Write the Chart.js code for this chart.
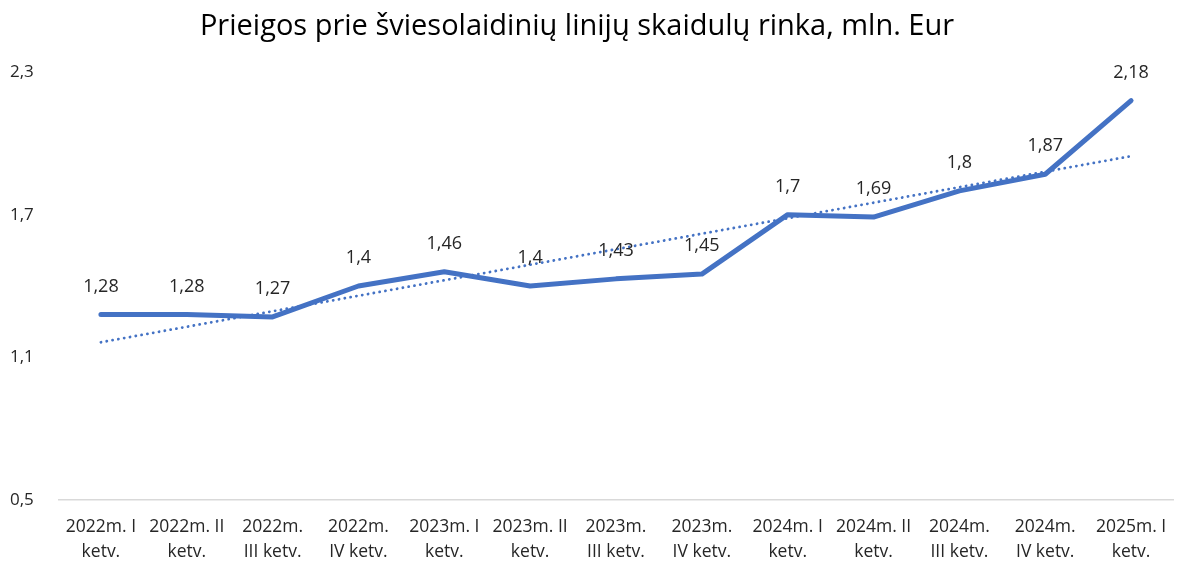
<!DOCTYPE html>
<html><head><meta charset="utf-8">
<script src="https://cdn.jsdelivr.net/npm/chart.js@4"></script>
<style>html,body{margin:0;padding:0;background:#fff}#wrap{width:1184px;height:563px;position:relative}</style>
</head><body><div id="wrap"><canvas id="c" width="1184" height="563"></canvas></div>
<script>
const TITLE = "Prieigos prie šviesolaidinių linijų skaidulų rinka, mln. Eur";
const categories = [
  ["2022m. I","ketv."],["2022m. II","ketv."],["2022m.","III ketv."],["2022m.","IV ketv."],
  ["2023m. I","ketv."],["2023m. II","ketv."],["2023m.","III ketv."],["2023m.","IV ketv."],
  ["2024m. I","ketv."],["2024m. II","ketv."],["2024m.","III ketv."],["2024m.","IV ketv."],
  ["2025m. I","ketv."]
];
const values = [1.28,1.28,1.27,1.4,1.46,1.4,1.43,1.45,1.7,1.69,1.8,1.87,2.18];
const yTicks = [0.5,1.1,1.7,2.3];

// linear trend (least squares) from the values
const n = values.length;
const mx = (n-1)/2;
const my = values.reduce((a,b)=>a+b,0)/n;
let sxy=0,sxx=0;
values.forEach((v,i)=>{sxy+=(i-mx)*(v-my);sxx+=(i-mx)*(i-mx);});
const slope = sxy/sxx, icpt = my - slope*mx;
const trend = values.map((v,i)=>icpt+slope*i);

const fmt = v => String(Math.round(v*100)/100).replace('.',',');
const FONT = "'Open Sans', 'Noto Sans', sans-serif";

const labelPlugin = {
  id:'lbls',
  afterDatasetsDraw(chart){
    const ctx = chart.ctx;
    const meta = chart.getDatasetMeta(0);
    ctx.save();
    ctx.fillStyle = '#262626';
    ctx.font = "18px " + FONT;
    ctx.textAlign='center'; ctx.textBaseline='middle';
    meta.data.forEach((p,i)=>{ ctx.fillText(fmt(values[i]), p.x, p.y-28); });
    ctx.restore();
  },
  afterDraw(chart){
    const ctx = chart.ctx;
    ctx.save();
    ctx.fillStyle = '#000';
    ctx.font = "29px " + FONT;
    ctx.textAlign='center'; ctx.textBaseline='middle';
    ctx.fillText(TITLE, 577, 27);
    ctx.restore();
  }
};

new Chart(document.getElementById('c'), {
  type:'line',
  data:{
    labels: categories,
    datasets:[
      {data: values, borderColor:'#4472C4', borderWidth:5, pointRadius:0, tension:0, borderJoinStyle:'round', borderCapStyle:'round', order:1},
      {data: trend, borderColor:'#4472C4', borderWidth:2.8, pointRadius:0, borderDash:[0.1,5.8], borderCapStyle:'round', order:2}
    ]
  },
  options:{
    responsive:false, animation:false,
    layout:{padding:{top:72,right:10,left:10,bottom:0}},
    plugins:{legend:{display:false}, title:{display:false}, tooltip:{enabled:false}},
    scales:{
      x:{
        offset:true,
        grid:{display:false}, border:{display:false},
        ticks:{color:'#262626', font:{family:FONT,size:17.5,lineHeight:1.42}, maxRotation:0, autoSkip:false, padding:7},
        afterFit(s){ s.height = 63; }
      },
      y:{
        min:0.5, max:2.3,
        afterBuildTicks(s){ s.ticks = yTicks.map(v=>({value:v})); },
        grid:{color:(c)=> c.tick && c.tick.value===0.5 ? '#d9d9d9':'rgba(0,0,0,0)', lineWidth:1.5, drawTicks:false},
        border:{display:false},
        ticks:{color:'#262626', font:{family:FONT,size:17}, crossAlign:'far', padding:10, callback:(v)=>fmt(v)},
        afterFit(s){ s.width = 48; }
      }
    }
  },
  plugins:[labelPlugin]
});
</script></body></html>
